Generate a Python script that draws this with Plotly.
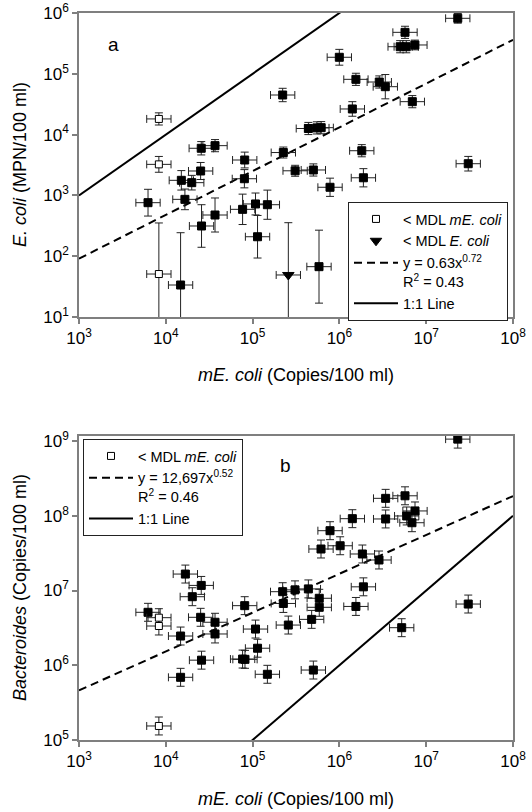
import numpy as np
import plotly.graph_objects as go

# ---------------- Panel a: E. coli (MPN/100 ml) vs mE. coli ----------------
A_X = [2.22e5, 2.56e4, 3.69e4, 2.52e4, 1.51e4, 1.99e4, 1.66e4, 8.11e4, 8.04e4, 2.26e5,
       3.09e5, 2.31e7, 5.70e6, 5.01e6, 5.89e6, 7.41e6, 9.98e5, 1.55e6, 2.88e6, 3.38e6,
       6.92e6, 1.41e6, 4.39e5, 5.50e5, 6.17e5, 1.81e6, 5.01e5, 1.89e6, 7.80e5, 3.05e7,
       6.24e3, 7.67e4, 1.08e5, 1.48e5, 2.58e4, 3.69e4, 1.14e5, 1.48e4, 5.82e5]
A_Y = [4.48e4, 5.96e3, 6.58e3, 2.52e3, 1.77e3, 1.62e3, 861, 3.82e3, 1.88e3, 5.07e3,
       2.54e3, 8.18e5, 4.81e5, 2.79e5, 2.79e5, 2.98e5, 1.87e5, 8.11e4, 7.33e4, 6.14e4,
       3.48e4, 2.64e4, 1.26e4, 1.29e4, 1.30e4, 5.43e3, 2.62e3, 1.95e3, 1.36e3, 3.32e3,
       759, 590, 723, 703, 314, 476, 209, 33.6, 67.3]
# vertical error, in log10 units (upper / lower)
A_YERR_UP = [0.11, 0.11, 0.10, 0.14, 0.16, 0.12, 0.17, 0.13, 0.15, 0.09,
             0.09, 0.08, 0.10, 0.10, 0.10, 0.08, 0.13, 0.10, 0.10, 0.20,
             0.10, 0.12, 0.10, 0.10, 0.10, 0.10, 0.10, 0.15, 0.15, 0.12,
             0.22, 0.25, 0.18, 0.24, 0.35, 0.28, 0.35, 0.86, 0.60]
A_YERR_DN = [0.11, 0.11, 0.10, 0.14, 0.16, 0.12, 0.17, 0.13, 0.15, 0.09,
             0.09, 0.08, 0.10, 0.10, 0.10, 0.08, 0.13, 0.10, 0.10, 0.20,
             0.10, 0.12, 0.10, 0.10, 0.10, 0.10, 0.10, 0.15, 0.15, 0.12,
             0.22, 0.25, 0.18, 0.24, 0.35, 0.28, 0.35, 2.00, 0.60]

# < MDL mE. coli (open squares)
A_OPEN_X = [8.32e3, 8.32e3, 8.32e3]
A_OPEN_Y = [1.81e4, 3.24e3, 50.9]
A_OPEN_YERR_UP = [0.10, 0.13, 0.84]
A_OPEN_YERR_DN = [0.10, 0.13, 2.00]

# < MDL E. coli (triangle)
A_TRI_X = [2.58e5]
A_TRI_Y = [49.1]
A_TRI_YERR_UP = [0.86]
A_TRI_YERR_DN = [2.00]

A_FIT_COEF = 0.63
A_FIT_EXP = 0.72
A_FIT_LABEL = "y = 0.63x<sup>0.72</sup><br>R<sup>2</sup> = 0.43"

# ---------------- Panel b: Bacteroides vs mE. coli ----------------
B_X = [1.68e4, 2.56e4, 2.02e4, 2.22e5, 3.08e5, 2.31e7, 3.41e6, 5.70e6, 7.43e6, 5.96e6,
       3.41e6, 6.85e6, 1.41e6, 7.80e5, 6.14e5, 1.02e6, 1.84e6, 2.86e6, 1.89e6, 4.39e5,
       5.86e5, 5.86e5, 6.24e3, 8.11e4, 2.26e5, 2.58e5, 4.79e5, 5.01e5, 2.52e4, 3.69e4,
       3.69e4, 1.48e4, 1.08e5, 1.14e5, 2.58e4, 7.67e4, 8.17e4, 1.48e4, 1.48e5, 1.55e6,
       3.05e7, 5.22e6]
B_Y = [1.66e7, 1.17e7, 8.26e6, 9.64e6, 1.02e7, 1.06e9, 1.71e8, 1.85e8, 1.16e8, 9.93e7,
       9.06e7, 8.07e7, 9.14e7, 6.31e7, 3.59e7, 3.97e7, 3.08e7, 2.56e7, 1.12e7, 1.05e7,
       7.87e6, 5.96e6, 5.11e6, 6.27e6, 6.71e6, 3.45e6, 4.11e6, 8.63e5, 4.38e6, 3.76e6,
       2.62e6, 2.46e6, 3.05e6, 1.69e6, 1.17e6, 1.21e6, 1.20e6, 6.90e5, 7.57e5, 6.12e6,
       6.59e6, 3.18e6]
B_OPEN_X = [8.32e3, 8.32e3, 8.32e3]
B_OPEN_Y = [4.33e6, 3.35e6, 1.54e5]
B_YERR_LOG = 0.12

B_FIT_COEF = 12697
B_FIT_EXP = 0.52
B_FIT_LABEL = "y = 12,697x<sup>0.52</sup><br>R<sup>2</sup> = 0.46"

X_ERR_LOG = 0.14  # horizontal error, log10 units

X_TICKS = [1e3, 1e4, 1e5, 1e6, 1e7, 1e8]
X_TICKTEXT = ["10<sup>3</sup>", "10<sup>4</sup>", "10<sup>5</sup>", "10<sup>6</sup>",
              "10<sup>7</sup>", "10<sup>8</sup>"]
A_YTICKS = [1e1, 1e2, 1e3, 1e4, 1e5, 1e6]
A_YTICKTEXT = ["10<sup>1</sup>", "10<sup>2</sup>", "10<sup>3</sup>", "10<sup>4</sup>",
               "10<sup>5</sup>", "10<sup>6</sup>"]
B_YTICKS = [1e5, 1e6, 1e7, 1e8, 1e9]
B_YTICKTEXT = ["10<sup>5</sup>", "10<sup>6</sup>", "10<sup>7</sup>", "10<sup>8</sup>",
               "10<sup>9</sup>"]
LINE_X = [1e3, 1e8]

# ---------------- layout geometry (pixels) ----------------
W, H = 532, 812
PX_L, PX_R = 79, 513
A_TOP, A_BOT = 13, 317
B_TOP, B_BOT = 436, 740
FONT = "Liberation Sans, Arial, sans-serif"
AXCOL = "#7f7f7f"


def fx(p):
    return p / W


def fy(p):
    return 1 - p / H


def err(vals, up_log, dn_log):
    v = np.asarray(vals, float)
    up = v * (10 ** np.asarray(up_log, float) - 1)
    dn = v * (1 - 10 ** (-np.asarray(dn_log, float)))
    return up.tolist(), dn.tolist()


def xerr(vals):
    n = len(vals)
    return err(vals, [X_ERR_LOG] * n, [X_ERR_LOG] * n)


def points(x, y, yup, ydn, xa, ya, symbol, fill, name, legend, showlegend, size=8):
    xu, xd = xerr(x)
    yu, yd = err(y, yup, ydn)
    return go.Scatter(
        x=x, y=y, mode="markers", xaxis=xa, yaxis=ya, name=name,
        legend=legend, showlegend=showlegend,
        marker=dict(symbol=symbol, size=size, color=fill,
                    line=dict(color="black", width=1)),
        error_x=dict(type="data", array=xu, arrayminus=xd, symmetric=False,
                     color="#222222", thickness=1, width=4),
        error_y=dict(type="data", array=yu, arrayminus=yd, symmetric=False,
                     color="#222222", thickness=1, width=4),
    )


fig = go.Figure()

# ---- panel a lines ----
fig.add_trace(go.Scatter(x=LINE_X, y=LINE_X, mode="lines", xaxis="x", yaxis="y",
                         line=dict(color="black", width=2), name="1:1 Line",
                         legend="legend", legendrank=4))
fig.add_trace(go.Scatter(x=LINE_X, y=[A_FIT_COEF * v ** A_FIT_EXP for v in LINE_X],
                         mode="lines", xaxis="x", yaxis="y",
                         line=dict(color="black", width=2, dash="8px,5px"),
                         name=A_FIT_LABEL, legend="legend", legendrank=3))
# ---- panel a points ----
fig.add_trace(points(A_X, A_Y, A_YERR_UP, A_YERR_DN, "x", "y", "square", "black",
                     "data", "legend", False))
fig.add_trace(points(A_OPEN_X, A_OPEN_Y, A_OPEN_YERR_UP, A_OPEN_YERR_DN, "x", "y",
                     "square", "white", "&lt; MDL <i>mE. coli</i>", "legend", True, size=7))
fig.data[-1].legendrank = 1
fig.add_trace(points(A_TRI_X, A_TRI_Y, A_TRI_YERR_UP, A_TRI_YERR_DN, "x", "y",
                     "triangle-down", "black", "&lt; MDL <i>E. coli</i>", "legend", True,
                     size=10))
fig.data[-1].legendrank = 2

# ---- panel b lines ----
fig.add_trace(go.Scatter(x=LINE_X, y=LINE_X, mode="lines", xaxis="x2", yaxis="y2",
                         line=dict(color="black", width=2), name="1:1 Line",
                         legend="legend2", legendrank=3))
fig.add_trace(go.Scatter(x=LINE_X, y=[B_FIT_COEF * v ** B_FIT_EXP for v in LINE_X],
                         mode="lines", xaxis="x2", yaxis="y2",
                         line=dict(color="black", width=2, dash="8px,5px"),
                         name=B_FIT_LABEL, legend="legend2", legendrank=2))
nb = len(B_X)
fig.add_trace(points(B_X, B_Y, [B_YERR_LOG] * nb, [B_YERR_LOG] * nb, "x2", "y2",
                     "square", "black", "data", "legend2", False))
no = len(B_OPEN_X)
fig.add_trace(points(B_OPEN_X, B_OPEN_Y, [B_YERR_LOG] * no, [B_YERR_LOG] * no, "x2", "y2",
                     "square", "white", "&lt; MDL <i>mE. coli</i>", "legend2", True, size=7))
fig.data[-1].legendrank = 1

axis_common = dict(type="log", showline=True, linecolor=AXCOL, linewidth=1.5, mirror=True,
                   ticks="outside", ticklen=5, tickcolor=AXCOL, tickwidth=1.5,
                   showgrid=False, zeroline=False, automargin=False,
                   tickfont=dict(family=FONT, size=17, color="black"))

legend_common = dict(xanchor="left", yanchor="top", bgcolor="white",
                     bordercolor="#222222", borderwidth=1,
                     font=dict(family=FONT, size=14.5, color="black"),
                     valign="top", tracegroupgap=0, itemwidth=44,
                     traceorder="normal")

fig.update_layout(
    width=W, height=H, autosize=False,
    margin=dict(l=0, r=0, t=0, b=0, pad=0, autoexpand=False),
    paper_bgcolor="white", plot_bgcolor="white",
    font=dict(family=FONT, color="black"),
    xaxis=dict(domain=[fx(PX_L), fx(PX_R)], anchor="y", range=[3, 8],
               tickvals=X_TICKS, ticktext=X_TICKTEXT, **axis_common),
    yaxis=dict(domain=[fy(A_BOT), fy(A_TOP)], anchor="x", range=[1, 6],
               tickvals=A_YTICKS, ticktext=A_YTICKTEXT, **axis_common),
    xaxis2=dict(domain=[fx(PX_L), fx(PX_R)], anchor="y2", range=[3, 8],
                tickvals=X_TICKS, ticktext=X_TICKTEXT, **axis_common),
    yaxis2=dict(domain=[fy(B_BOT), fy(B_TOP)], anchor="x2", range=[5, 9.067],
                tickvals=B_YTICKS, ticktext=B_YTICKTEXT, **axis_common),
    legend=dict(x=fx(348), y=fy(202), **legend_common),
    legend2=dict(x=fx(83), y=fy(439), **legend_common),
    showlegend=True,
)

ann_font = dict(family=FONT, size=18, color="black")
common_ann = dict(xref="paper", yref="paper", showarrow=False,
                  xanchor="center", yanchor="middle")
annotations = [
    dict(text="a", x=fx(113), y=fy(45), font=dict(family=FONT, size=19, color="black"),
         **common_ann),
    dict(text="b", x=fx(285), y=fy(465), font=dict(family=FONT, size=19, color="black"),
         **common_ann),
    dict(text="<i>mE. coli</i> (Copies/100 ml)", x=fx((PX_L + PX_R) / 2), y=fy(375),
         font=ann_font, **common_ann),
    dict(text="<i>mE. coli</i> (Copies/100 ml)", x=fx((PX_L + PX_R) / 2), y=fy(799),
         font=ann_font, **common_ann),
    dict(text="<i>E. coli</i> (MPN/100 ml)", x=fx(20), y=fy((A_TOP + A_BOT) / 2),
         textangle=-90, font=ann_font, **common_ann),
    dict(text="<i>Bacteroides</i> (Copies/100 ml)", x=fx(20), y=fy((B_TOP + B_BOT) / 2),
         textangle=-90, font=ann_font, **common_ann),
]
fig.update_layout(annotations=annotations)

fig.write_html("out.html", config={"displayModeBar": False},
               post_script="document.body.style.margin='0';")
